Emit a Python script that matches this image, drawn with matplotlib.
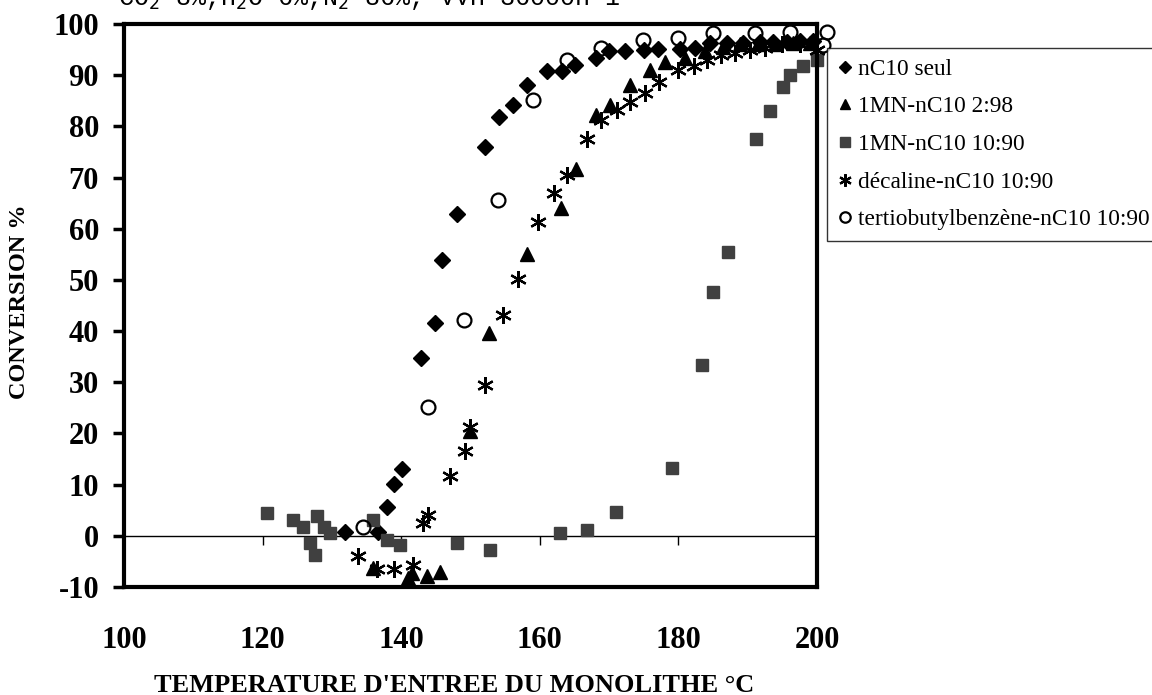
import matplotlib
matplotlib.use("Agg")
import matplotlib.pyplot as plt

# ---- data ----
nc10_x = [131.9, 136.7, 137.9, 138.9, 140.1, 142.9, 144.9, 145.9, 148.0, 152.1, 154.1,
          156.1, 158.2, 161.0, 163.2, 165.1, 168.1, 170.0, 172.3, 175.1, 177.1, 180.2,
          182.4, 184.6, 187.0, 189.3, 191.8, 193.7, 195.6, 197.5, 199.4]
nc10_y = [0.8, 0.8, 5.6, 10.2, 13.0, 34.8, 41.6, 53.8, 62.8, 76.0, 81.9,
          84.2, 88.1, 90.8, 90.9, 92.0, 93.3, 94.8, 94.8, 95.0, 95.1, 95.1,
          95.3, 96.3, 96.2, 96.2, 96.5, 96.5, 96.5, 96.6, 96.6]

mn298_x = [136.0, 141.0, 141.6, 143.7, 145.6, 149.9, 152.6, 158.1, 163.0, 165.2, 168.1,
           170.1, 173.0, 175.9, 178.1, 181.0, 183.8, 186.5, 188.9, 191.5, 194.0, 196.5, 199.0]
mn298_y = [-6.3, -8.2, -7.3, -7.9, -7.0, 20.4, 39.6, 55.0, 64.0, 71.6, 82.2,
           84.2, 88.1, 91.0, 92.6, 93.4, 94.8, 95.6, 96.0, 96.0, 96.0, 96.2, 96.2]

mn1090_x = [120.6, 124.4, 125.9, 126.8, 127.6, 127.8, 128.8, 129.7, 136.0, 137.9, 139.8,
            148.0, 152.8, 162.9, 166.8, 171.0, 179.1, 183.4, 185.0, 187.2, 191.2, 193.2,
            195.1, 196.1, 198.0, 200.0]
mn1090_y = [4.4, 3.1, 1.8, -1.4, -3.7, 3.8, 1.8, 0.6, 3.1, -0.8, -1.8,
            -1.4, -2.7, 0.5, 1.2, 4.7, 13.2, 33.3, 47.6, 55.5, 77.5, 83.0,
            87.6, 90.0, 91.7, 93.0]

dec_x = [133.8, 136.5, 138.9, 141.7, 143.2, 143.9, 147.0, 149.2, 149.9, 152.1, 154.7,
         156.9, 159.8, 162.0, 163.9, 166.8, 168.9, 171.1, 173.0, 175.2, 177.2, 180.0,
         182.2, 184.1, 186.2, 188.2, 190.3, 192.5, 195.0, 197.5, 200.0]
dec_y = [-4.0, -6.5, -6.4, -5.7, 2.5, 4.1, 11.6, 16.5, 21.3, 29.5, 43.2,
         50.1, 61.4, 66.9, 70.5, 77.5, 81.2, 83.2, 84.8, 86.5, 88.7, 91.0,
         91.7, 93.0, 94.0, 94.3, 95.0, 95.4, 96.0, 96.0, 95.0]

tbb_x = [134.5, 143.8, 149.1, 154.0, 159.0, 163.9, 168.9, 174.9, 180.0, 185.0, 191.1,
         196.1, 201.5, 200.8]
tbb_y = [1.8, 25.1, 42.2, 65.7, 85.2, 93.0, 95.3, 96.9, 97.2, 98.2, 98.2,
         98.5, 98.5, 95.8]

labels = ["nC10 seul", "1MN-nC10 2:98", "1MN-nC10 10:90",
          "décaline-nC10 10:90", "tertiobutylbenzène-nC10 10:90"]
xticks = [100, 120, 140, 160, 180, 200]
yticks = [-10, 0, 10, 20, 30, 40, 50, 60, 70, 80, 90, 100]
zero_ticks = [120, 140, 160, 180]

plt.rcParams['font.family'] = ['Liberation Serif', 'DejaVu Serif']
plt.rcParams['axes.unicode_minus'] = False

fig = plt.figure(figsize=(11.52, 6.95), dpi=100)
ax = fig.add_axes([124/1152, 1-587/695, (817-124)/1152, (587-24)/695])

sq_col = '#404040'
ax.plot(nc10_x, nc10_y, 'D', color='black', ms=8, ls='none', clip_on=False, label=labels[0])
ax.plot(mn298_x, mn298_y, '^', color='black', ms=10, ls='none', clip_on=False, label=labels[1])
ax.plot(mn1090_x, mn1090_y, 's', color=sq_col, mec=sq_col, ms=9, ls='none', clip_on=False, label=labels[2])
ax.plot(dec_x, dec_y, marker=(6, 2, 0), color='black', ms=12, mew=1.6, ls='none', clip_on=False, label=labels[3])
ax.plot(tbb_x, tbb_y, 'o', mfc='none', mec='black', ms=10, mew=1.6, ls='none', clip_on=False, label=labels[4])

ax.set_xlim(100, 200)
ax.set_ylim(-10, 100)

ax.axhline(0, color='black', lw=1.0, zorder=1)
ax.vlines(zero_ticks, -1.8, 0, color='black', lw=1.0, zorder=1)

for s in ax.spines.values():
    s.set_linewidth(3)

ax.set_xticks(xticks)
ax.set_yticks(yticks)
ax.tick_params(axis='x', length=0, pad=28, labelsize=22)
ax.tick_params(axis='y', direction='out', length=8, width=2.5, pad=10, labelsize=22)
for t in ax.get_xticklabels() + ax.get_yticklabels():
    t.set_fontweight('bold')

fig.text(20/1152, 1-302/695, "CONVERSION %", rotation=90, ha='center', va='center',
         fontsize=17.5, fontweight='bold')
fig.text(454/1152, 1-685/695, "TEMPERATURE D'ENTREE DU MONOLITHE °C", ha='center', va='center',
         fontsize=19, fontweight='bold')

fig.text(118/1152, 1-5/695, "CO$_2$ 8%,H$_2$O 6%,N$_2$ 86%, VVH 36000h-1", ha='left', va='baseline',
         fontsize=18, family='Liberation Mono')

leg = fig.legend(loc='upper left', bbox_to_anchor=(827/1152, 1-48/695), frameon=True,
                 fancybox=False, edgecolor='black', fontsize=16.8, handlelength=0.6,
                 handletextpad=0.3, borderpad=0.45, labelspacing=0.7, markerscale=0.75,
                 borderaxespad=0)
leg.get_frame().set_linewidth(1.0)

fig.savefig("out.png", dpi=100)
